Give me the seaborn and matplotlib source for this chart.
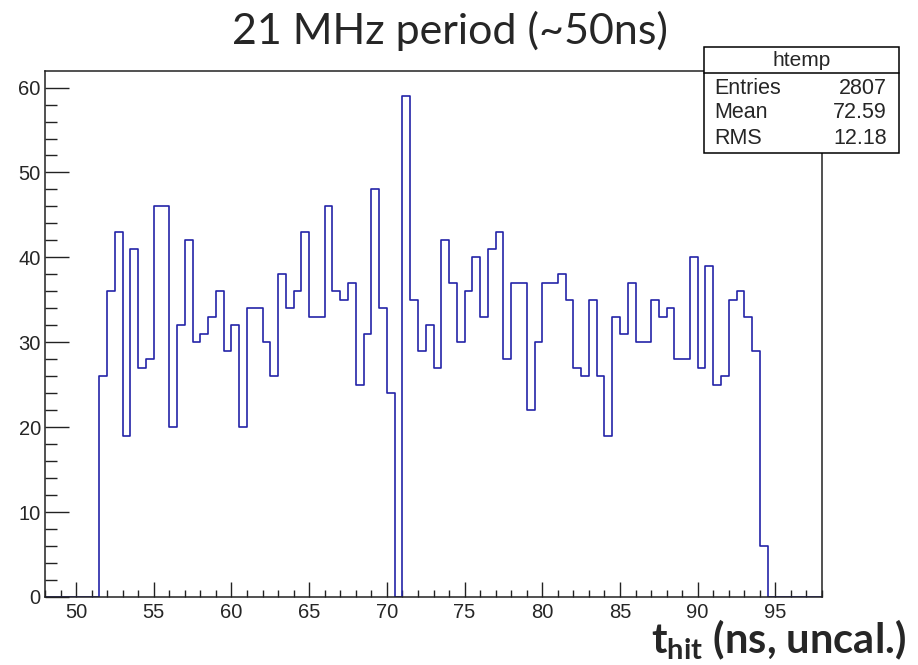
import numpy as np
import pandas as pd
import seaborn as sns
from matplotlib import pyplot as plt
from matplotlib.patches import Rectangle
from matplotlib.lines import Line2D
from matplotlib.ticker import MultipleLocator

# bin contents, 0.5 ns bins starting at 51.5 ns
first_bin = 51.5
counts = [26, 36, 43, 19, 41, 27, 28, 46, 46, 20,
          32, 42, 30, 31, 33, 36, 29, 32, 20, 34,
          34, 30, 26, 38, 34, 36, 43, 33, 33, 46,
          36, 35, 37, 25, 31, 48, 34, 24, 0, 59,
          35, 29, 32, 27, 42, 37, 30, 36, 40, 33,
          41, 43, 28, 37, 37, 22, 30, 37, 37, 38,
          35, 27, 26, 35, 26, 19, 33, 31, 37, 30,
          30, 35, 33, 34, 28, 28, 40, 27, 39, 25,
          26, 35, 36, 33, 29, 6]
stat_names = ["Entries", "Mean", "RMS"]
stat_values = ["2807", "72.59", "12.18"]

df = pd.DataFrame({"t": first_bin + 0.25 + 0.5 * np.arange(len(counts)), "n": counts})

sns.set_style("white")
plt.rcParams["font.family"] = ["Liberation Sans", "DejaVu Sans"]
plt.rcParams["mathtext.fontset"] = "custom"
plt.rcParams["mathtext.rm"] = "Lato"
plt.rcParams["mathtext.bf"] = "Lato:bold"

fig = plt.figure(figsize=(9.18, 6.65), dpi=100)
ax = fig.add_axes([45 / 918, 68 / 665, 777 / 918, 526 / 665])

sns.histplot(data=df, x="t", weights="n", binwidth=0.5, binrange=(48, 98),
             element="step", fill=False, color="#2424a8", linewidth=1.2, ax=ax)

ax.set_xlim(48, 98)
ax.set_ylim(0, 61.95)
ax.set_xlabel("")
ax.set_ylabel("")
ax.xaxis.set_major_locator(MultipleLocator(5))
ax.xaxis.set_minor_locator(MultipleLocator(1))
ax.yaxis.set_major_locator(MultipleLocator(10))
ax.yaxis.set_minor_locator(MultipleLocator(2))
ax.set_xticks(np.arange(50, 96, 5))
ax.tick_params(axis="x", which="major", direction="in", length=10.5, width=1,
               labelsize=14.5, pad=4, bottom=True, top=False, color="#222222")
ax.tick_params(axis="x", which="minor", direction="in", length=5, width=1,
               bottom=True, top=False, color="#222222")
ax.tick_params(axis="y", which="major", direction="in", length=17, width=1,
               labelsize=14.5, pad=3, left=True, right=False, color="#222222")
ax.tick_params(axis="y", which="minor", direction="in", length=8.5, width=1,
               left=True, right=False, color="#222222")
for s in ax.spines.values():
    s.set_visible(True)
    s.set_color("#222222")
    s.set_linewidth(1.1)

# stats box
x0, x1 = 704 / 918, 899 / 918
y0, y1, yh = 1 - 153 / 665, 1 - 47 / 665, 1 - 73 / 665
fig.add_artist(Rectangle((x0, y0), x1 - x0, y1 - y0, transform=fig.transFigure,
                         facecolor="white", edgecolor="black", linewidth=1.1, zorder=5))
fig.add_artist(Line2D([x0, x1], [yh, yh], transform=fig.transFigure,
                      color="black", linewidth=1.1, zorder=6))
fig.text((x0 + x1) / 2, 1 - 60 / 665, "htemp", ha="center", va="center",
         fontsize=15, zorder=7)
for i, (name, val) in enumerate(zip(stat_names, stat_values)):
    yy = 1 - (88 + 25 * i) / 665
    fig.text(714 / 918, yy, name, ha="left", va="center", fontsize=15.5, zorder=7)
    fig.text(887 / 918, yy, val, ha="right", va="center", fontsize=15.5, zorder=7)

fig.text(450 / 918, 1 - 31 / 665, "21 MHz period (~50ns)", ha="center", va="center",
         family="Lato", fontsize=31)
fig.text(906 / 918, 12 / 665, r"$\mathbf{t}_{\mathbf{hit}}$ (ns, uncal.)", ha="right",
         va="baseline", family="Lato", fontweight="bold", fontsize=30)

fig.savefig("out.png", dpi=100)
